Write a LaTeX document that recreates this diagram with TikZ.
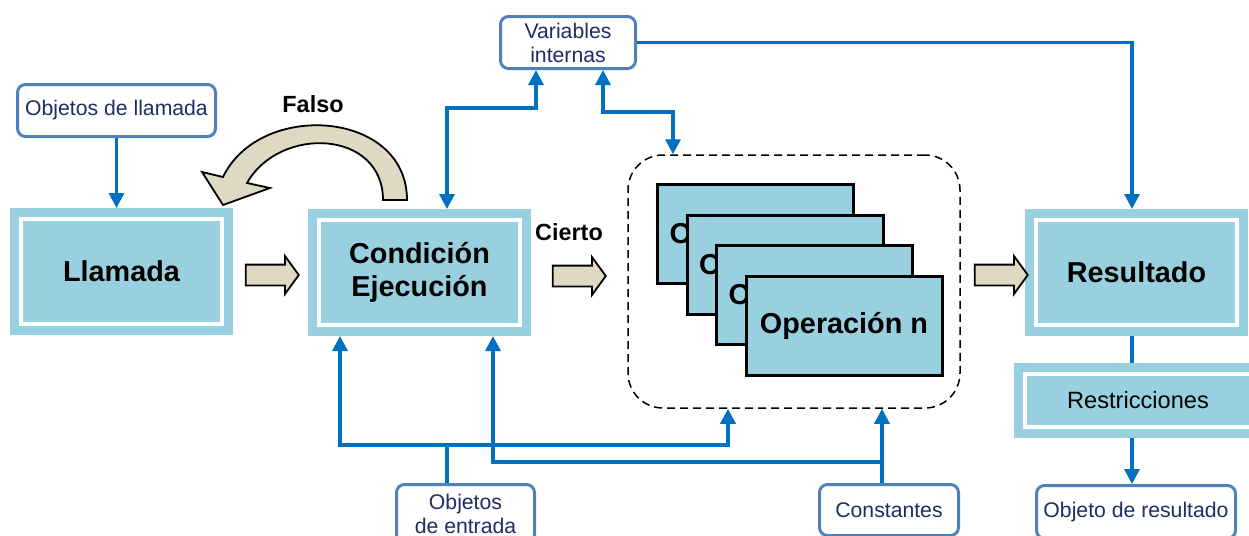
\documentclass[tikz,border=0pt]{standalone}
\usepackage{fontspec}
\setmainfont{Liberation Sans}
\usepackage{xcolor}
\usetikzlibrary{positioning}
\usetikzlibrary{shapes.arrows}
\usetikzlibrary{arrows.meta,calc}
\definecolor{celeste}{RGB}{153,208,224}
\definecolor{arena}{RGB}{221,217,195}
\definecolor{azul}{RGB}{0,112,192}
\definecolor{borde}{RGB}{79,129,189}
\definecolor{marino}{RGB}{31,45,100}

\begin{document}
\begin{tikzpicture}[
x=0.5pt, y=-0.5pt,
>={Triangle[width=7.5pt,length=7.5pt]},
bloque/.style = {
  rectangle,
  fill=celeste,
  draw=white, line width=2pt,
  preaction={draw=celeste, line width=11pt},
  inner sep=0pt, outer sep=5.5pt,
  minimum width=100.5pt, minimum height=52.5pt,
  align=center,
  font=\bfseries\fontsize{14.4}{16.5}\selectfont},
etiq/.style = {
  rectangle, rounded corners=4pt,
  draw=borde, line width=1.5pt, fill=white,
  text=marino, inner sep=0pt, align=center,
  font=\fontsize{10.6}{12}\selectfont},
opcaja/.style = {
  rectangle, fill=celeste, draw=black, line width=1.5pt,
  minimum width=98pt, minimum height=49.5pt, inner sep=0pt,
  font=\bfseries\fontsize{14.4}{16.5}\selectfont},
opfondo/.style = {opcaja, text width=86pt, inner xsep=6pt, align=left},
grupo/.style = {
  rectangle, rounded corners=17.5pt, draw=black, dashed,
  dash pattern=on 4pt off 2.5pt, line width=0.75pt,
  minimum width=166pt, minimum height=126.5pt},
flecha/.style = {
  single arrow, draw=black, line width=0.9pt, fill=arena,
  inner xsep=0pt, inner ysep=4.75pt, minimum height=26.5pt,
  single arrow head extend=4.25pt, single arrow tip angle=108},
texto/.style = {font=\bfseries\fontsize{11.7}{14}\selectfont},
line/.style = {draw=azul, line width=1.6pt, ->},
]
\clip (0,0) rectangle (1249,536);

\node[bloque] (llamada) at (121.5,271.5) {Llamada};
\node[bloque] (condicion) at (419.5,272.5) {Condición\\Ejecución};
\node[bloque] (resultado) at (1136.5,272.5) {Resultado};

\node[etiq, minimum width=99pt, minimum height=26pt] (objllamada) at (116.5,110.5) {Objetos de llamada};
\node[etiq, minimum width=67.5pt, minimum height=26pt] (varint) at (568,42.5) {Variables\\internas};
\node[etiq, minimum width=69pt, minimum height=29pt] (objent) at (465.5,513.5) {Objetos\\de entrada};
\node[etiq, minimum width=69.5pt, minimum height=25.5pt] (constantes) at (889,510) {Constantes};
\node[etiq, minimum width=99.5pt, minimum height=26.5pt] (objres) at (1136,512) {Objeto de resultado};

\node[grupo] (grupo) at (794,281.5) {};
\node[opfondo] (op1) at (755.5,234) {O};
\node[opfondo, right of=op1, node distance=14.75pt, yshift=-15.25pt] (op2) {O};
\node[opfondo, right of=op2, node distance=14.75pt, yshift=-15.25pt] (op3) {O};
\node[opcaja, right of=op3, node distance=14.75pt, yshift=-15.25pt] (opn) {Operación n};

\node[flecha] (f1) at (268.5,275) {};
\node[flecha] (f2) at (575.5,276) {};
\node[flecha] (f3) at (997.5,275) {};

\draw[black, line width=0.9pt, fill=arena]
  (407,200) .. controls (407,110) and (260,100) .. (223,177)
  -- (202,172) -- (223,205) -- (270,188) -- (247,183)
  .. controls (280,125) and (383,130) .. (383,200) -- cycle;
\node[texto] (falso) at (313,104) {Falso};
\node[texto] (cierto) at (569,232) {Cierto};

 \begin{scope}[every path/.style=line]
\path (objllamada.south) -- (objllamada.south |- llamada.north);
\path[<->] ([xshift=13.75pt]condicion.north) -- ++(0,-101) -| ([xshift=-16pt]varint.south);
\path[<->] ([xshift=17.5pt]varint.south) -- ++(0,42) -| ([xshift=-60.5pt]grupo.north);
\path (varint.east) -| ([xshift=-2.25pt]resultado.north);
\path ([xshift=-9.25pt]objent.north) -- ++(0,-38) -| ([xshift=-39.75pt]condicion.south);
\path ([xshift=-9.25pt]objent.north) -- ++(0,-38) -| ([xshift=-33pt]grupo.south);
\path ([xshift=-3.5pt]constantes.north) -- ([xshift=44pt]grupo.south);
\path ([xshift=-3.5pt]constantes.north) -- ++(0,-21) -| ([xshift=36.75pt]condicion.south);
\path ([xshift=-2.25pt]resultado.south) -- ([xshift=-2.25pt]resultado.south |- objres.north);
\end{scope}

\node[bloque, font=\fontsize{11.8}{14}\selectfont, minimum width=113pt, minimum height=26.5pt] (restric) at (1138,400.5) {Restricciones};

\end{tikzpicture}
\end{document}
